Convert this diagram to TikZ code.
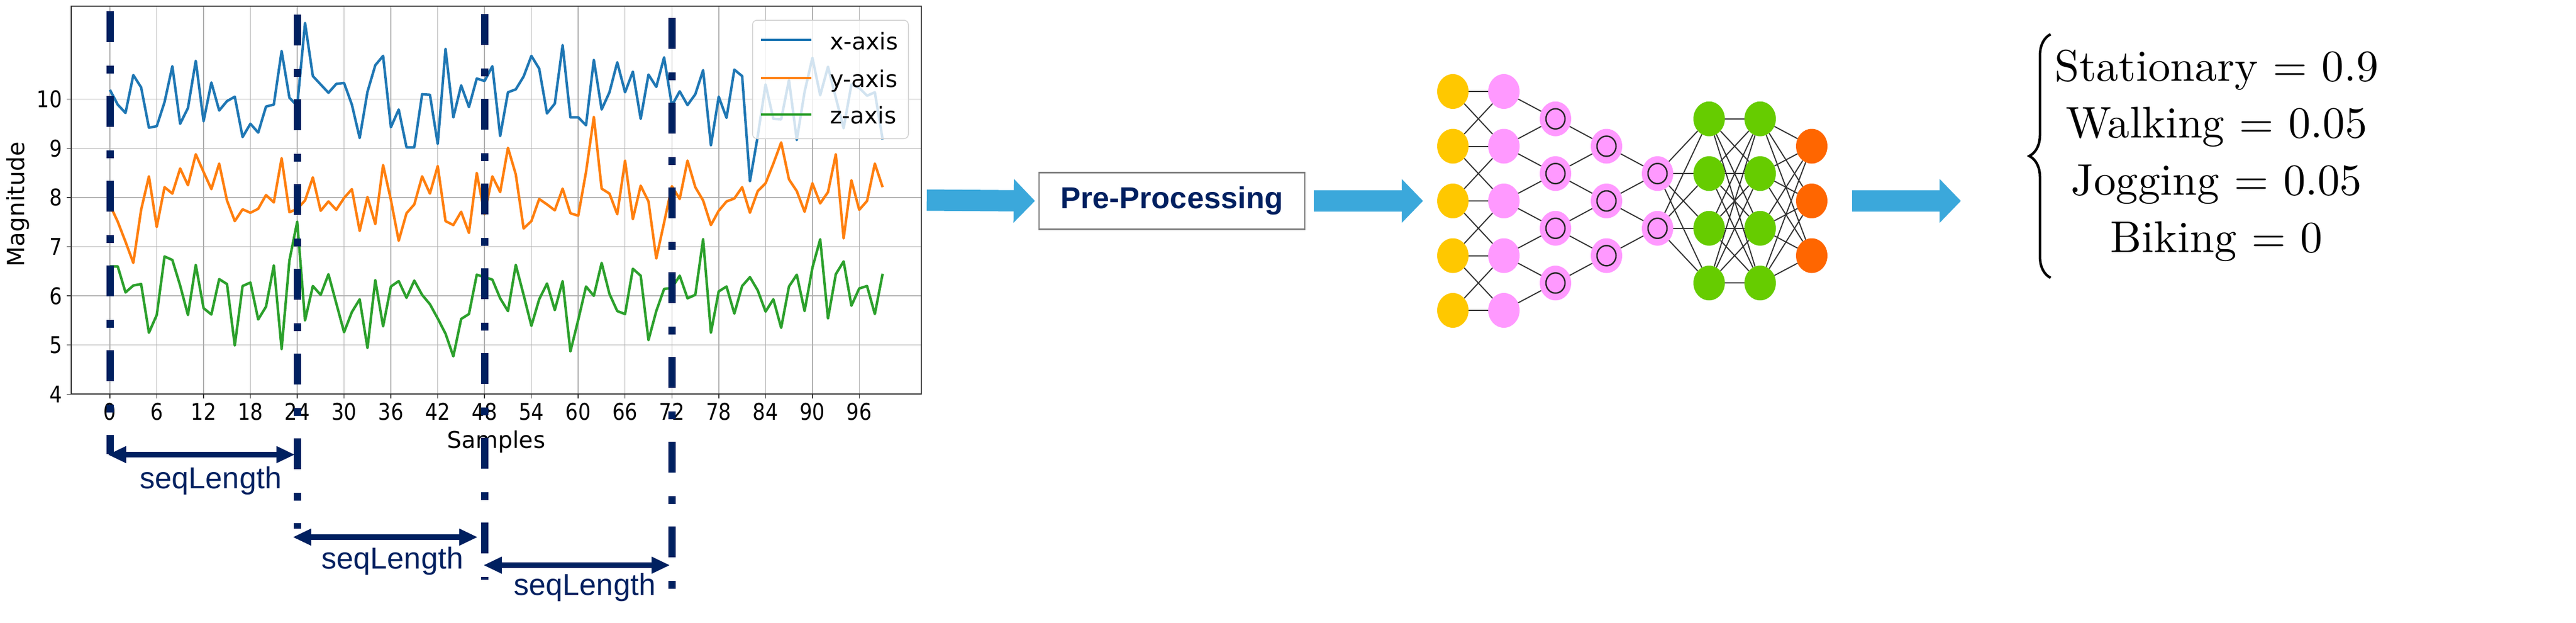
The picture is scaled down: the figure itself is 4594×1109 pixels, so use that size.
\documentclass[tikz,border=0pt]{standalone}
\usepackage{fontspec}
\newfontfamily\plotfont{DejaVu Sans}
\newfontfamily\tickfont[FakeStretch=0.86]{DejaVu Sans}
\newfontfamily\arialfont{Liberation Sans}
\newfontfamily\probfont{lmroman10-regular.otf}
\usetikzlibrary{arrows.meta,shapes.geometric,decorations.pathreplacing}

\definecolor{navy}{HTML}{002060}
\definecolor{flowblue}{HTML}{3BA8DB}
\definecolor{xcol}{HTML}{1F77B4}
\definecolor{ycol}{HTML}{FF7F0E}
\definecolor{zcol}{HTML}{2CA02C}
\definecolor{gridgray}{HTML}{B0B0B0}
\definecolor{nnyellow}{HTML}{FFC800}
\definecolor{nnpink}{HTML}{FF99FF}
\definecolor{nngreen}{HTML}{66CC00}
\definecolor{nnorange}{HTML}{FF6600}

\tikzset{
  gridline/.style={gridgray, line width=1.5pt},
  tickmark/.style={black!80, line width=1.5pt},
  series/.style={line width=4.5pt, line join=round},
  window/.style={navy, line width=13pt, dash pattern=on 55pt off 42pt on 14pt off 40pt},
  seqarrow/.style={navy, line width=9.5pt, {Triangle[length=33pt,width=28pt]}-{Triangle[length=33pt,width=28pt]}},
  seqlabel/.style={anchor=base, text=navy, font=\arialfont\fontsize{54}{60}\selectfont},
  ticklabel/.style={inner sep=0pt, font=\tickfont\fontsize{41}{48}\selectfont},
  flow/.style={flowblue, line width=38pt, -{Triangle[length=38pt,width=76pt]}},
  neuron/.style={ellipse, minimum width=56pt, minimum height=62pt, inner sep=0pt},
  inlayer/.style={neuron, fill=nnyellow},
  hidlayer/.style={neuron, fill=nnpink},
  convlayer/.style={neuron, fill=nnpink, path picture={\draw[black!85, line width=2.5pt]
      (path picture bounding box.center) ellipse [x radius=17pt, y radius=18pt];}},
  denselayer/.style={neuron, fill=nngreen},
  outlayer/.style={neuron, fill=nnorange},
  edge/.style={black!80, line width=2pt}
}

\begin{document}
\begin{tikzpicture}[x=1pt, y=-1pt]
  \useasboundingbox (0,0) rectangle (4594,1109);
  \fill[white] (0,0) rectangle (4594,1109);

  \begin{scope}[shift={(196pt,-1052.7pt)}, x=13.92pt, y=87.6pt]
    \foreach \t in {0,6,...,96}
      \draw[gridline] (\t,4) -- (\t,11.89);
    \foreach \v in {4,...,10}
      \draw[gridline] (-4.96,\v) -- (103.93,\v);
    \draw[series, xcol] (0,10.19) \foreach \v [count=\i] in {9.89,9.72,10.49,10.24,9.42,9.45,9.94,10.67,9.50,9.82,
      10.78,9.55,10.34,9.77,9.96,10.05,9.23,9.50,9.32,9.85,9.89,10.98,10.03,9.86,11.55,10.47,10.30,10.13,10.31,
      10.33,9.89,9.21,10.15,10.69,10.88,9.43,9.79,9.02,9.02,10.10,10.09,9.09,11.02,9.63,10.28,9.84,10.42,10.37,
      10.67,9.25,10.14,10.20,10.46,10.88,10.62,9.71,9.91,11.10,9.63,9.63,9.47,10.80,9.79,10.14,10.75,10.14,10.56,
      9.60,10.50,10.25,10.85,9.87,10.16,9.88,10.10,10.59,9.06,10.05,9.62,10.60,10.47,8.33,9.25,10.30,9.60,9.59,
      10.39,9.17,10.15,10.84,10.08,10.66,10.03,9.41,10.30,10.23,10.07,10.14,9.18} {-- (\i,\v)};
    \draw[series, ycol] (0,7.85) \foreach \v [count=\i] in {7.51,7.10,6.67,7.75,8.43,7.40,8.21,8.08,8.59,8.25,
      8.88,8.52,8.17,8.69,7.94,7.52,7.76,7.69,7.77,8.05,7.90,8.80,7.70,7.77,7.94,8.41,7.73,7.92,7.75,7.99,8.17,
      7.32,8.01,7.46,8.66,7.95,7.12,7.68,7.86,8.43,8.08,8.64,7.52,7.44,7.71,7.28,8.50,7.66,8.43,8.11,9.01,8.47,
      7.37,7.52,7.97,7.86,7.74,8.18,7.68,7.63,8.52,9.64,8.18,8.08,7.66,8.75,7.56,8.24,7.92,6.76,7.49,8.23,7.97,
      8.75,8.21,7.94,7.44,7.73,7.92,7.98,8.21,7.69,8.13,8.29,8.69,9.12,8.37,8.13,7.71,8.29,7.88,8.11,8.88,7.17,
      8.35,7.75,7.93,8.69,8.21} {-- (\i,\v)};
    \draw[series, zcol] (0,6.60) \foreach \v [count=\i] in {6.60,6.07,6.21,6.24,5.25,5.61,6.80,6.73,6.21,5.61,
      6.63,5.75,5.62,6.34,6.24,4.99,6.20,6.27,5.52,5.78,6.62,4.92,6.72,7.51,5.50,6.20,6.02,6.44,5.85,5.26,5.67,
      5.93,4.94,6.32,5.38,6.19,6.30,5.96,6.31,6.02,5.83,5.54,5.23,4.77,5.53,5.63,6.43,6.38,6.33,5.95,5.69,6.63,
      6.02,5.39,5.93,6.25,5.71,6.30,4.87,5.51,6.19,6.00,6.67,6.04,5.69,5.63,6.55,6.41,5.10,5.69,6.14,6.16,6.41,
      5.95,6.02,7.15,5.25,6.09,6.19,5.64,6.20,6.38,6.11,5.68,5.93,5.35,6.19,6.43,5.69,6.57,7.15,5.54,6.44,6.70,
      5.80,6.15,6.20,5.63,6.45} {-- (\i,\v)};
    \foreach \t in {0,6,...,96} {
      \draw[tickmark] (\t,4) -- ++(0pt,-8pt);
      \node[ticklabel, anchor=base, yshift=-46pt] (xt\t) at (\t,4) {\t};
    }
    \foreach \v in {4,...,10} {
      \draw[tickmark] (-4.96,\v) -- ++(-8pt,0pt);
      \node[ticklabel, anchor=east, xshift=-16pt] (yt\v) at (-4.96,\v) {\v};
    }
  \end{scope}

  \node[draw=black!80, line width=1.5pt, minimum width=1516pt, minimum height=691pt, inner sep=0pt] (axes) at (885,356.5) {};
  \node[anchor=base, font=\plotfont\fontsize{41}{48}\selectfont] (xlabel) at (885,798) {Samples};
  \node[rotate=90, font=\plotfont\fontsize{42}{48}\selectfont] (ylabel) at (32,364) {Magnitude};

  \node[draw=black!18, line width=1.5pt, rounded corners=8pt, fill=white, fill opacity=0.8,
    minimum width=278pt, minimum height=211pt, inner sep=0pt] (legend) at (1481,141.5) {};
  \foreach \c/\y/\b/\name in {xcol/71/88/x, ycol/139/155/y, zcol/204/220/z} {
    \draw[series, \c] (1357,\y) -- (1447,\y);
    \node[anchor=base west, inner sep=0pt, font=\plotfont\fontsize{41}{48}\selectfont] (key\name) at (1480,\b) {\name-axis};
  }

  \foreach \s/\top/\bot in {0/20/809, 24/26/942, 48/25/1033, 72/32/1049}
    \draw[window] ({196+13.92*\s},\top) -- ({196+13.92*\s},\bot);

  \coordinate (w1a) at (192,810);
  \coordinate (w1b) at (526,810);
  \coordinate (w2a) at (522,957);
  \coordinate (w2b) at (852,957);
  \coordinate (w3a) at (862,1007);
  \coordinate (w3b) at (1195,1007);
  \draw[seqarrow] (w1a) -- (w1b);
  \draw[seqarrow] (w2a) -- (w2b);
  \draw[seqarrow] (w3a) -- (w3b);
  \node[seqlabel] (len1) at (376,870) {seqLength};
  \node[seqlabel] (len2) at (700,1013) {seqLength};
  \node[seqlabel] (len3) at (1043,1060) {seqLength};

  \node[draw=black!50, line width=2.5pt, fill=white, minimum width=474pt, minimum height=101pt,
    text=navy, font=\arialfont\bfseries\fontsize{54}{60}\selectfont] (pre) at (2090,358) {Pre-Processing};

  \foreach \i in {1,...,5} {
    \node[inlayer] (a\i) at (2591,{65.5+97.5*\i}) {};
    \node[hidlayer] (b\i) at (2682,{65.5+97.5*\i}) {};
  }
  \foreach \i in {1,...,4} {
    \node[convlayer] (c\i) at (2774,{114.25+97.5*\i}) {};
    \node[denselayer] (f\i) at (3048,{114.25+97.5*\i}) {};
    \node[denselayer] (g\i) at (3139,{114.25+97.5*\i}) {};
  }
  \foreach \i in {1,...,3} {
    \node[convlayer] (d\i) at (2865,{163+97.5*\i}) {};
    \node[outlayer] (o\i) at (3231,{163+97.5*\i}) {};
  }
  \foreach \i in {1,2}
    \node[convlayer] (e\i) at (2956,{211.75+97.5*\i}) {};

  \foreach \i in {1,...,5}
    \draw[edge] (a\i) -- (b\i);
  \foreach \i [evaluate=\i as \j using int(\i+1)] in {1,...,4} {
    \draw[edge] (a\i) -- (b\j);
    \draw[edge] (a\j) -- (b\i);
    \draw[edge] (b\i) -- (c\i);
    \draw[edge] (b\j) -- (c\i);
  }
  \foreach \i [evaluate=\i as \j using int(\i+1)] in {1,...,3} {
    \draw[edge] (c\i) -- (d\i);
    \draw[edge] (c\j) -- (d\i);
  }
  \foreach \i [evaluate=\i as \j using int(\i+1)] in {1,2} {
    \draw[edge] (d\i) -- (e\i);
    \draw[edge] (d\j) -- (e\i);
  }
  \foreach \i in {1,2}
    \foreach \j in {1,...,4}
      \draw[edge] (e\i) -- (f\j);
  \foreach \i in {1,...,4} {
    \foreach \j in {1,...,4}
      \draw[edge] (f\i) -- (g\j);
    \foreach \j in {1,...,3}
      \draw[edge] (g\i) -- (o\j);
  }

  \draw[flow] ([xshift=9pt]axes.east) -- ([xshift=-6pt]pre.west);
  \draw[flow] ([xshift=15pt]pre.east) -- ([xshift=-25pt]a3.west);
  \coordinate (res) at (3497,358);
  \draw[flow] ([xshift=44pt]o2.east) -- (res);

  \node[align=center, inner sep=0pt, font=\probfont\fontsize{79}{101.7}\selectfont] (probs) at (3953,277)
    {Stationary = 0.9\\Walking = 0.05\\Jogging = 0.05\\Biking = 0};
  \coordinate (brbot) at (3657,495);
  \coordinate (brtop) at (3657,61);
  \draw[line width=4.5pt, decorate, decoration={brace, amplitude=38pt}] (brbot) -- (brtop);
\end{tikzpicture}
\end{document}
